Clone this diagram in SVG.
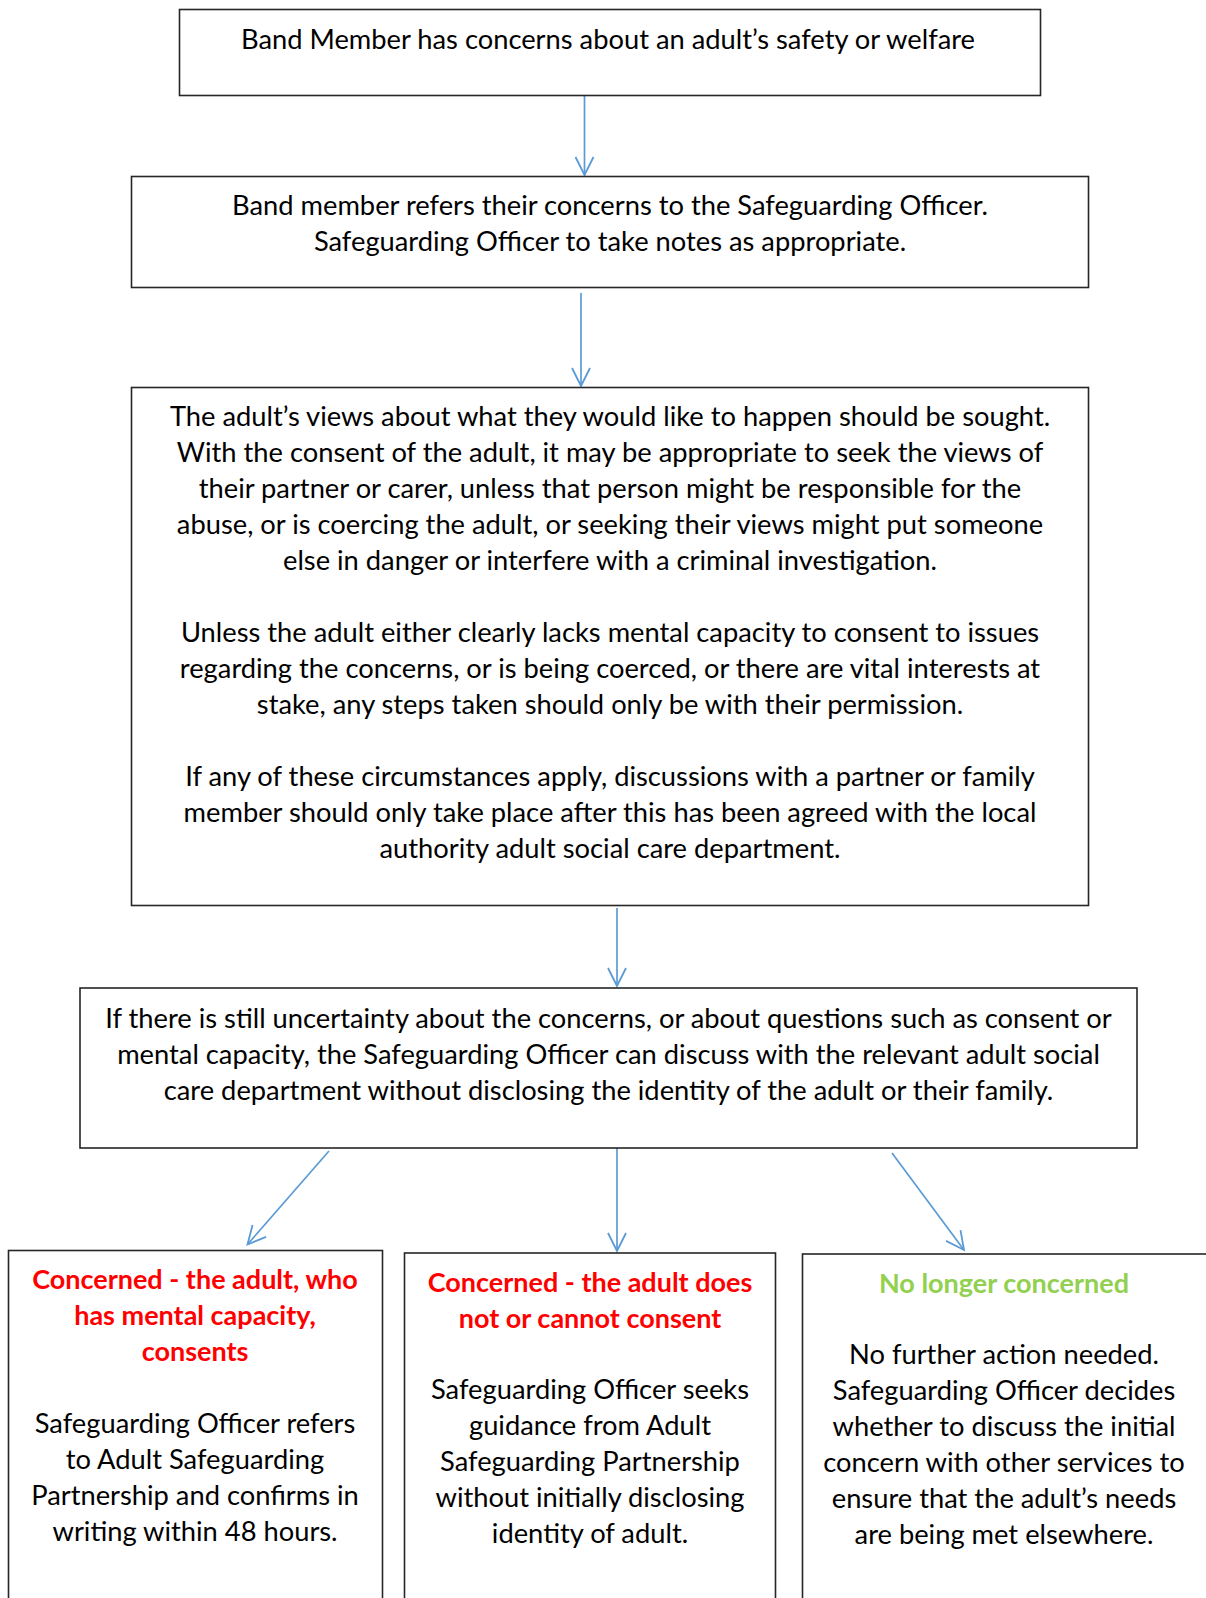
<svg xmlns="http://www.w3.org/2000/svg" width="1206" height="1598" viewBox="0 0 1206 1598">
<style>
.box{fill:#fff;stroke:#262626;stroke-width:1.6}
.t{font-family:Lato,"Open Sans",sans-serif;font-size:27.3px;fill:#000;text-anchor:middle}
.red{fill:#FF0000;font-weight:bold;font-size:27px}
.green{fill:#92D050;font-weight:bold;font-size:27px}
.c{fill:none;stroke:#5B9BD5;stroke-width:1.7;marker-end:url(#arr)}
</style>
<defs>
<marker id="arr" markerUnits="userSpaceOnUse" markerWidth="24" markerHeight="24" viewBox="-20 -12 24 24" refX="0" refY="0" orient="auto">
<path d="M-18,-9 L0,0 L-18,9" fill="none" stroke="#5B9BD5" stroke-width="1.8"/>
</marker>
</defs>
<rect width="1206" height="1598" fill="#fff"/>
<g id="connectors">
<line class="c" x1="584.5" y1="96" x2="584.5" y2="175"/>
<line class="c" x1="581" y1="293" x2="581" y2="386"/>
<line class="c" x1="617" y1="908" x2="617" y2="986"/>
<line class="c" x1="329" y1="1151" x2="247.5" y2="1244.5"/>
<line class="c" x1="617" y1="1148" x2="617" y2="1251"/>
<line class="c" x1="892" y1="1153" x2="964" y2="1250"/>
</g>
<g id="n1">
<rect class="box" x="179.5" y="9.5" width="861" height="86"/>
<text class="t" x="608" y="49">Band Member has concerns about an adult’s safety or welfare</text>
</g>
<g id="n2">
<rect class="box" x="131.5" y="176.5" width="957" height="111"/>
<text class="t" x="610" y="215">Band member refers their concerns to the Safeguarding Officer.</text>
<text class="t" x="610" y="251">Safeguarding Officer to take notes as appropriate.</text>
</g>
<g id="n3">
<rect class="box" x="131.5" y="387.5" width="957" height="518"/>
<text class="t" x="610" y="426">The adult’s views about what they would like to happen should be sought.</text>
<text class="t" x="610" y="462">With the consent of the adult, it may be appropriate to seek the views of</text>
<text class="t" x="610" y="498">their partner or carer, unless that person might be responsible for the</text>
<text class="t" x="610" y="534">abuse, or is coercing the adult, or seeking their views might put someone</text>
<text class="t" x="610" y="570">else in danger or interfere with a criminal investigation.</text>
<text class="t" x="610" y="642">Unless the adult either clearly lacks mental capacity to consent to issues</text>
<text class="t" x="610" y="678">regarding the concerns, or is being coerced, or there are vital interests at</text>
<text class="t" x="610" y="714">stake, any steps taken should only be with their permission.</text>
<text class="t" x="610" y="786">If any of these circumstances apply, discussions with a partner or family</text>
<text class="t" x="610" y="822">member should only take place after this has been agreed with the local</text>
<text class="t" x="610" y="858">authority adult social care department.</text>
</g>
<g id="n4">
<rect class="box" x="80" y="988" width="1057" height="160"/>
<text class="t" x="608.5" y="1028">If there is still uncertainty about the concerns, or about questions such as consent or</text>
<text class="t" x="608.5" y="1064">mental capacity, the Safeguarding Officer can discuss with the relevant adult social</text>
<text class="t" x="608.5" y="1100">care department without disclosing the identity of the adult or their family.</text>
</g>
<g id="n5">
<rect class="box" x="8.5" y="1250.5" width="374" height="360"/>
<text class="t red" x="195" y="1289">Concerned - the adult, who</text>
<text class="t red" x="195" y="1325">has mental capacity,</text>
<text class="t red" x="195" y="1361">consents</text>
<text class="t" x="195" y="1433">Safeguarding Officer refers</text>
<text class="t" x="195" y="1469">to Adult Safeguarding</text>
<text class="t" x="195" y="1505">Partnership and confirms in</text>
<text class="t" x="195" y="1541">writing within 48 hours.</text>
</g>
<g id="n6">
<rect class="box" x="404.5" y="1253" width="371" height="360"/>
<text class="t red" x="590" y="1292">Concerned - the adult does</text>
<text class="t red" x="590" y="1328">not or cannot consent</text>
<text class="t" x="590" y="1399">Safeguarding Officer seeks</text>
<text class="t" x="590" y="1435">guidance from Adult</text>
<text class="t" x="590" y="1471">Safeguarding Partnership</text>
<text class="t" x="590" y="1507">without initially disclosing</text>
<text class="t" x="590" y="1543">identity of adult.</text>
</g>
<g id="n7">
<rect class="box" x="802.5" y="1254" width="420" height="360"/>
<text class="t green" x="1004" y="1293">No longer concerned</text>
<text class="t" x="1004" y="1364">No further action needed.</text>
<text class="t" x="1004" y="1400">Safeguarding Officer decides</text>
<text class="t" x="1004" y="1436">whether to discuss the initial</text>
<text class="t" x="1004" y="1472">concern with other services to</text>
<text class="t" x="1004" y="1508">ensure that the adult’s needs</text>
<text class="t" x="1004" y="1544">are being met elsewhere.</text>
</g>
</svg>
